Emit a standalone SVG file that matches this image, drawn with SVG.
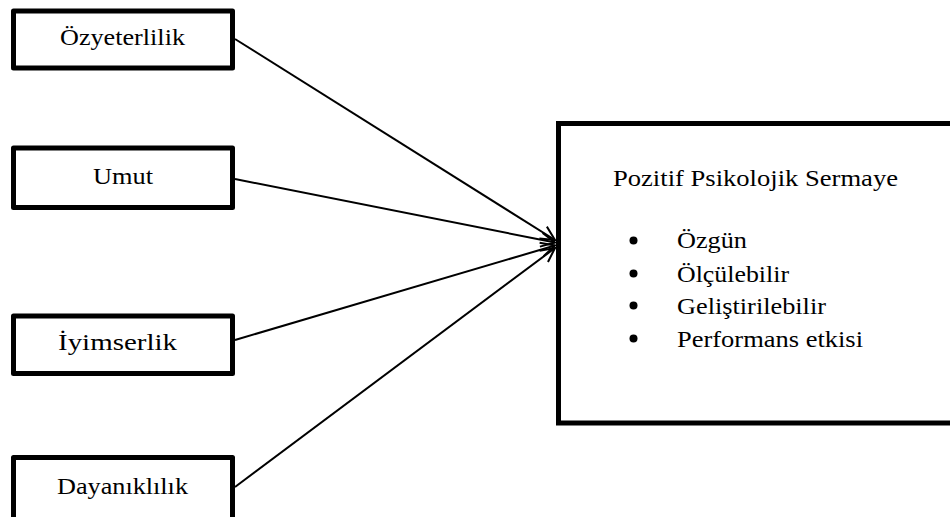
<svg xmlns="http://www.w3.org/2000/svg" width="950" height="517" viewBox="0 0 950 517">
  <style>
    .box { fill: #ffffff; stroke: #000000; stroke-width: 5; stroke-linejoin: round; }
    .big { fill: #ffffff; stroke: #000000; stroke-width: 5; }
    .lbl { font-family: "Liberation Serif", "Times New Roman", Times, serif; font-size: 23px; fill: #000000; }
    .edge { stroke: #000000; stroke-width: 2; fill: none; }
  </style>
  <defs>
    <marker id="arrow" markerUnits="userSpaceOnUse" markerWidth="20" markerHeight="20" refX="16" refY="10" orient="auto">
      <path d="M2,3 L16,10 L2,17" fill="none" stroke="#000000" stroke-width="2"/>
    </marker>
  </defs>
  <rect width="950" height="517" fill="#ffffff"/>

  <g id="connectors">
    <line class="edge" x1="235" y1="39" x2="555" y2="240" marker-end="url(#arrow)"/>
    <line class="edge" x1="235" y1="179" x2="555" y2="242.5" marker-end="url(#arrow)"/>
    <line class="edge" x1="235" y1="340" x2="555" y2="245.5" marker-end="url(#arrow)"/>
    <line class="edge" x1="235" y1="487" x2="555" y2="248" marker-end="url(#arrow)"/>
  </g>

  <g id="ozyeterlilik">
    <rect class="box" x="13.5" y="11" width="219" height="57"/>
    <text class="lbl" x="60" y="45" textLength="125" lengthAdjust="spacingAndGlyphs">Özyeterlilik</text>
  </g>

  <g id="umut">
    <rect class="box" x="13.5" y="148" width="219" height="59.5"/>
    <text class="lbl" x="93" y="184" textLength="60" lengthAdjust="spacingAndGlyphs">Umut</text>
  </g>

  <g id="iyimserlik">
    <rect class="box" x="13.5" y="316" width="219" height="57.5"/>
    <text class="lbl" x="58" y="350" textLength="119" lengthAdjust="spacingAndGlyphs">İyimserlik</text>
  </g>

  <g id="dayaniklilik">
    <rect class="box" x="13.5" y="457.5" width="219" height="66"/>
    <text class="lbl" x="57" y="494" textLength="131" lengthAdjust="spacingAndGlyphs">Dayanıklılık</text>
  </g>

  <g id="pozitif-psikolojik-sermaye">
    <rect class="big" x="558.5" y="123.5" width="410" height="299.5"/>
    <text class="lbl" x="613" y="186" textLength="285" lengthAdjust="spacingAndGlyphs">Pozitif Psikolojik Sermaye</text>
    <circle cx="633.5" cy="240.5" r="4"/>
    <circle cx="633.5" cy="273.5" r="4"/>
    <circle cx="633.5" cy="305.5" r="4"/>
    <circle cx="633.5" cy="338.5" r="4"/>
    <text class="lbl" x="677" y="248" textLength="70" lengthAdjust="spacingAndGlyphs">Özgün</text>
    <text class="lbl" x="677" y="281.5" textLength="112" lengthAdjust="spacingAndGlyphs">Ölçülebilir</text>
    <text class="lbl" x="677" y="313.5" textLength="149" lengthAdjust="spacingAndGlyphs">Geliştirilebilir</text>
    <text class="lbl" x="677" y="346.5" textLength="186" lengthAdjust="spacingAndGlyphs">Performans etkisi</text>
  </g>
</svg>
